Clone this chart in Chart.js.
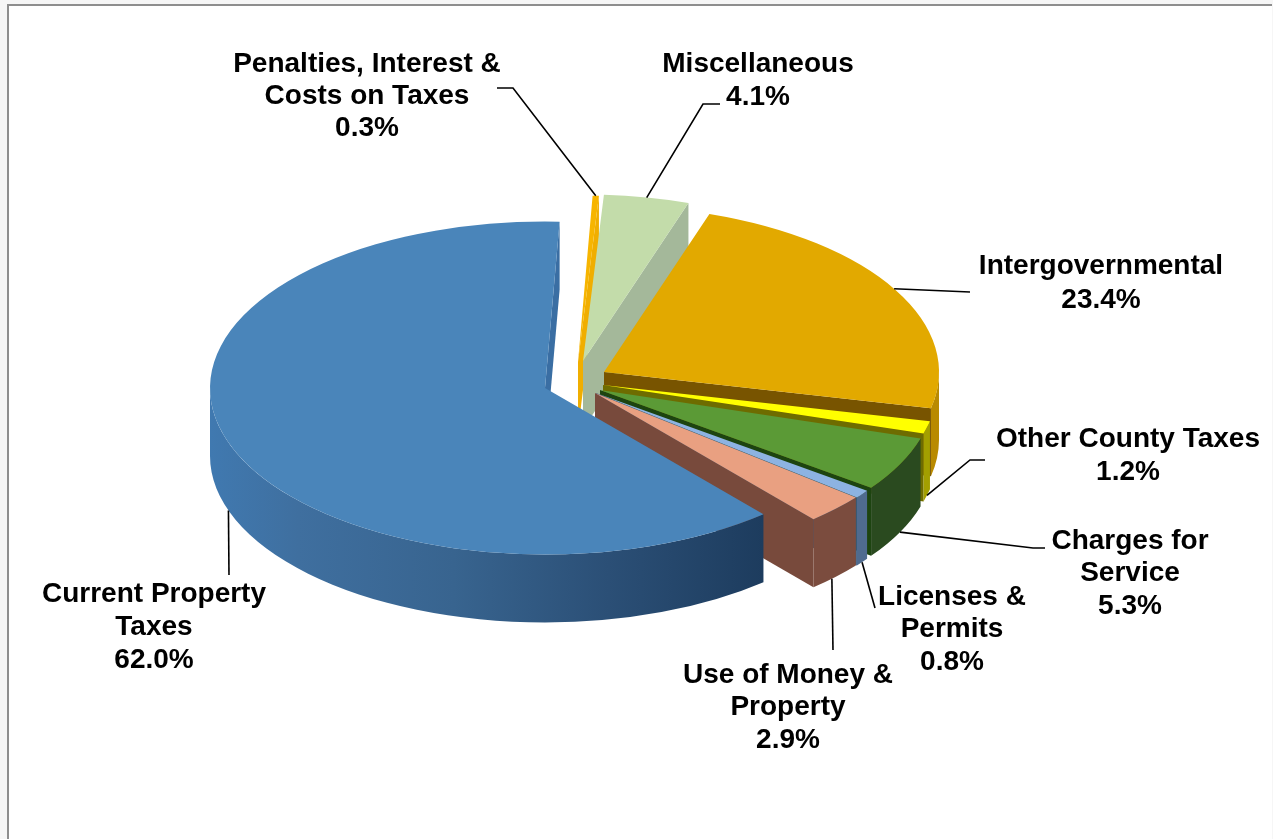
<!DOCTYPE html>
<html>
<head>
<meta charset="utf-8">
<title>Revenue by source</title>
<script src="https://cdn.jsdelivr.net/npm/chart.js@4"></script>
<style>
    html, body { margin: 0; height: 100%; background: #f6f6f6; overflow: hidden; }
    .frame {
        position: absolute; left: 7px; top: 4px; right: 1px; bottom: 0;
        background: #fff;
        border-left: 2px solid #8e8e8e;
        border-top: 2px solid #8e8e8e;
    }
    #chart { position: absolute; left: 0; top: 0; }
</style>
</head>
<body>
<div class="frame"></div>
<canvas id="chart" width="1273" height="839"></canvas>
<script>
// revenue shares, clockwise from the top of the pie
const categories = [
    ['Penalties, Interest &', 'Costs on Taxes'],
    ['Miscellaneous'],
    ['Intergovernmental'],
    ['Other County Taxes'],
    ['Charges for', 'Service'],
    ['Licenses &', 'Permits'],
    ['Use of Money &', 'Property'],
    ['Current Property', 'Taxes']
];
const shares = [0.3, 4.1, 23.4, 1.2, 5.3, 0.8, 2.9, 62.0];

const topColors = ['#f7b500', '#c3dcaa', '#e2a900', '#ffff00', '#5b9a36', '#8db3e2', '#e9a081', '#4a85ba'];
const cutColors = ['#f0ae00', '#a4b89a', '#785400', '#6e6c00', '#1d4410', '#3c5a7c', '#784a3c', '#3a6ea3'];
const wallColors = ['#f0ae00', '#98ab8c', '#b98a00', '#a39f00', '#2a4a1f', '#4f6b8f', '#7b4c3e', null];
const blueWallStops = [[0, '#4079b0'], [0.16, '#3f6f9f'], [0.44, '#38648f'], [0.72, '#2b4f76'], [1, '#1d3c5e']];

// how far each slice is pulled out of the pie, from its centre
const slicePull = [[3, -18], [8, -19], [29, -8], [28, 5], [25, 10], [21, 13], [20, 13], [-30, 8]];

const TILT = 0.497;
const DEPTH = 68;
const RADIUS = 335;

// label centre x, first line y, line height
const labelPlace = [
    [367, 64, 32], [758, 64, 33], [1101, 266, 34], [1128, 439, 33],
    [1130, 541, 32.5], [952, 597, 32.5], [788, 675, 32.5], [154, 594, 33]
];
// leader lines: anchor angle on the slice (null = middle), on the wall bottom or not, then the bends
const leaders = [
    { angle: null, low: false, bends: [[513, 88], [497, 88]] },
    { angle: null, low: false, bends: [[703, 104], [720, 104]] },
    { angle: 330, low: false, bends: [[970, 292]] },
    { angle: null, low: true, bends: [[970, 460], [985, 460]] },
    { angle: null, low: true, bends: [[1033, 548], [1045, 548]] },
    { angle: null, low: true, bends: [[875, 608]] },
    { angle: 45, low: true, bends: [[833, 650]] },
    { angle: null, low: true, bends: [[229, 575]] }
];

function apexOf(el, i) {
    return { x: el.x + slicePull[i][0], y: el.y + slicePull[i][1] };
}

function rimPoint(apex, angle) {
    return {
        x: apex.x + Math.cos(angle) * RADIUS,
        y: apex.y + Math.sin(angle) * RADIUS * TILT
    };
}

// cut face on the clockwise side of the slice
function drawCut(ctx, el, i) {
    const apex = apexOf(el, i);
    const rim = rimPoint(apex, el.endAngle);
    if (Math.cos(el.endAngle) <= 0) return;
    ctx.fillStyle = cutColors[i];
    ctx.beginPath();
    ctx.moveTo(apex.x, apex.y);
    ctx.lineTo(rim.x, rim.y);
    ctx.lineTo(rim.x, rim.y + DEPTH);
    ctx.lineTo(apex.x, apex.y + DEPTH);
    ctx.closePath();
    ctx.fill();
}

// outer wall, only the part turned towards the viewer
function drawWall(ctx, el, i) {
    const apex = apexOf(el, i);
    let fill = wallColors[i];
    if (!fill) {
        fill = ctx.createLinearGradient(apex.x - RADIUS, 0, rimPoint(apex, el.startAngle).x, 0);
        blueWallStops.forEach(s => fill.addColorStop(s[0], s[1]));
    }
    ctx.fillStyle = fill;
    for (let k = -1; k <= 1; k++) {
        const from = Math.max(el.startAngle, k * 2 * Math.PI);
        const to = Math.min(el.endAngle, k * 2 * Math.PI + Math.PI);
        if (to <= from) continue;
        ctx.beginPath();
        ctx.ellipse(apex.x, apex.y, RADIUS, RADIUS * TILT, 0, from, to);
        ctx.ellipse(apex.x, apex.y + DEPTH, RADIUS, RADIUS * TILT, 0, to, from, true);
        ctx.closePath();
        ctx.fill();
    }
}

const pie3d = {
    id: 'pie3d',
    // slices are painted back to front, each with its sides first
    beforeDatasetsDraw(chart) {
        const ctx = chart.ctx;
        chart.getDatasetMeta(0).data.forEach((el, i) => {
            drawCut(ctx, el, i);
            drawWall(ctx, el, i);
            const apex = apexOf(el, i);
            ctx.save();
            ctx.translate(apex.x, apex.y);
            ctx.scale(1, TILT);
            ctx.translate(-el.x, -el.y);
            el.draw(ctx);
            ctx.restore();
        });
        return false;
    },
    afterDraw(chart) {
        const ctx = chart.ctx;
        chart.getDatasetMeta(0).data.forEach((el, i) => {
            const leader = leaders[i];
            const angle = leader.angle === null
                ? (el.startAngle + el.endAngle) / 2
                : leader.angle * Math.PI / 180;
            const start = rimPoint(apexOf(el, i), angle);
            ctx.strokeStyle = '#000';
            ctx.lineWidth = 1.6;
            ctx.beginPath();
            ctx.moveTo(start.x, start.y + (leader.low ? DEPTH : 0));
            leader.bends.forEach(p => ctx.lineTo(p[0], p[1]));
            ctx.stroke();

            const [x, y, step] = labelPlace[i];
            const lines = categories[i].concat(shares[i].toFixed(1) + '%');
            ctx.fillStyle = '#000';
            ctx.font = 'bold 28px "Liberation Sans"';
            ctx.textAlign = 'center';
            ctx.textBaseline = 'middle';
            lines.forEach((line, n) => ctx.fillText(line, x, y + n * step));
        });
    }
};

new Chart(document.querySelector('#chart').getContext('2d'), {
    type: 'pie',
    data: {
        labels: categories.map(c => c.join(' ')),
        datasets: [{
            data: shares,
            backgroundColor: topColors,
            borderWidth: 0
        }]
    },
    options: {
        responsive: false,
        animation: false,
        events: [],
        radius: RADIUS,
        rotation: 2.5,
        layout: { padding: { right: 123, bottom: 79 } },
        plugins: { legend: { display: false }, tooltip: { enabled: false } }
    },
    plugins: [pie3d]
});
</script>
</body>
</html>
